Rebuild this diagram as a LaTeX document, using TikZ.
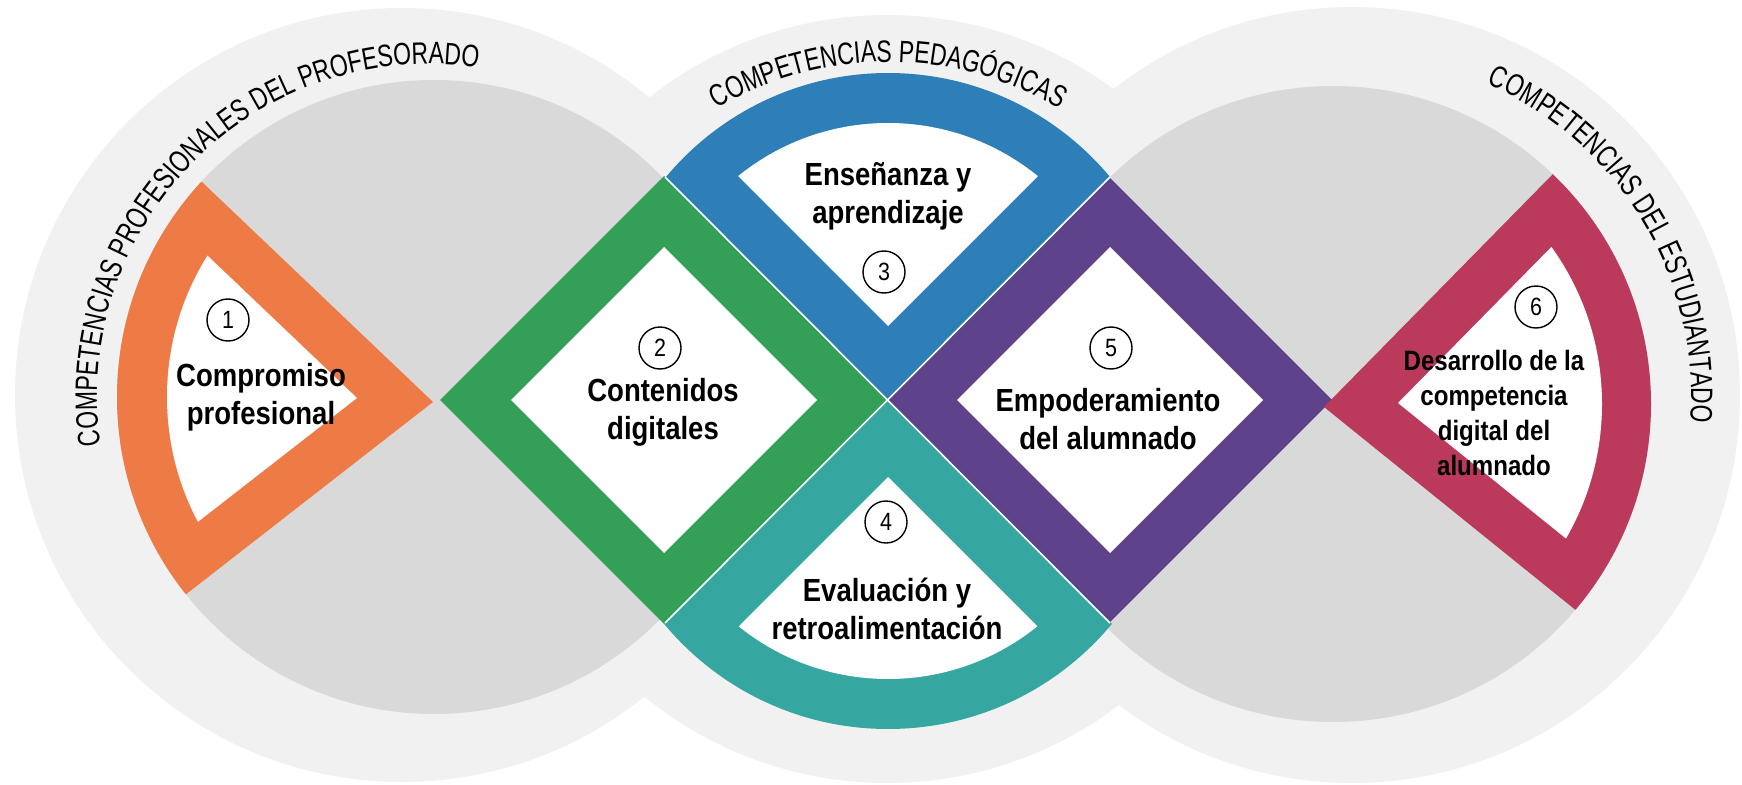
\documentclass[tikz,border=0pt]{standalone}
\usepackage{fontspec}
\setmainfont{Liberation Sans}[FakeStretch=0.86]
\newfontfamily\arcfont{Liberation Sans}[FakeStretch=0.74]
\usepackage{xcolor}
\usepackage{tikz}
\usetikzlibrary{decorations.text}
\definecolor{bandgrey}{HTML}{F1F1F1}
\definecolor{diskgrey}{HTML}{D9D9D9}
\definecolor{compromiso}{HTML}{EE7A46}
\definecolor{contenidos}{HTML}{34A057}
\definecolor{ensenanza}{HTML}{2E7EB8}
\definecolor{evaluacion}{HTML}{35A7A0}
\definecolor{empoderamiento}{HTML}{5E438B}
\definecolor{desarrollo}{HTML}{BB3A5B}
% apex, first angle, second angle, disk centre, radius, colour
\newcommand{\sectorfill}[6]{%
  \begin{scope}
    \clip #1 -- +(#2:800) -- +({(#2+#3)/2}:800) -- +(#3:800) -- cycle;
    \fill[#6] #4 circle[radius=#5];
  \end{scope}}
\tikzset{
  badge/.style={circle, draw, line width=0.7pt, minimum size=21pt, inner sep=0pt,
    font=\fontsize{12.5}{12.5}\selectfont},
  areatext/.style={align=center, inner sep=0pt, font=\bfseries\fontsize{16}{19}\selectfont},
  arctext/.style={decorate, decoration={text along path, text align=center,
    text={|\arcfont\fontsize{15.5}{15.5}\selectfont|#1}}},
}

\begin{document}
\begin{tikzpicture}[x=0.5pt, y=0.5pt]
        \useasboundingbox (0,0) rectangle (1742,784);

        % Outer bands
        \fill[bandgrey] (402,389) circle[radius=387];
        \fill[bandgrey] (887,385) circle[radius=384];
        \fill[bandgrey] (1352,389) circle[radius=388];
        % Inner disks
        \fill[diskgrey] (434,387) circle[radius=317];
        \fill[diskgrey] (1333,380) circle[radius=318];

        % 1 Compromiso profesional
        \sectorfill{(433,382)}{136.4}{217.9}{(434,387)}{317}{compromiso}
        \sectorfill{(357,386)}{136.4}{217.9}{(434,387)}{267}{white}

        % 2 Contenidos digitales
        \fill[contenidos] (440,384) -- (664,608) -- (888,384) -- (664,160) -- cycle;
        \fill[white] (511,384) -- (664,537) -- (817,384) -- (664,231) -- cycle;

        % 3 Enseñanza y aprendizaje
        \sectorfill{(888,384)}{45}{135}{(888,422)}{289}{ensenanza}
        \sectorfill{(888,458)}{45}{135}{(888,423)}{238}{white}

        % 4 Evaluación y retroalimentación
        \sectorfill{(888,384)}{225}{315}{(888,346)}{291}{evaluacion}
        \sectorfill{(888,307)}{225}{315}{(888,343)}{238}{white}

        % 5 Empoderamiento del alumnado
        \fill[empoderamiento] (888,384) -- (1110,606) -- (1332,384) -- (1110,162) -- cycle;
        \fill[white] (957,384) -- (1110,537) -- (1263,384) -- (1110,231) -- cycle;

        % 6 Desarrollo de la competencia digital
        \sectorfill{(1324,377)}{45.5}{-38.9}{(1333,380)}{318}{desarrollo}
        \sectorfill{(1398,381)}{45.5}{-38.9}{(1333,380)}{269}{white}

        % Thin gaps between the middle pieces
        \draw[white, line width=0.8pt] (665,607) -- (1110,161);
        \draw[white, line width=0.8pt] (1110,607) -- (665,161);

        % Titles along the bands
        \path[arctext={COMPETENCIAS PROFESIONALES DEL PROFESORADO}]
          ([shift={(200:333)}]430,387) arc[start angle=200, end angle=70, radius=333];
        \path[arctext={COMPETENCIAS PEDAGÓGICAS}]
          ([shift={(150:338)}]888,384) arc[start angle=150, end angle=30, radius=338];
        \path[arctext={COMPETENCIAS DEL ESTUDIANTADO}]
          ([shift={(80:339)}]1352,389) arc[start angle=80, end angle=-18, radius=339];

        % Numbers
        \node[badge] (n1) at (228,464) {1};
        \node[badge] (n2) at (660,436) {2};
        \node[badge] (n3) at (884,512) {3};
        \node[badge] (n4) at (886,262) {4};
        \node[badge] (n5) at (1111,436) {5};
        \node[badge] (n6) at (1536,477) {6};

        % Area names
        \node[areatext] (compromiso) at (261,387) {Compromiso\\profesional};
        \node[areatext] (contenidos) at (663,372) {Contenidos\\digitales};
        \node[areatext] (ensenanza) at (888,588) {Enseñanza y\\aprendizaje};
        \node[areatext] (evaluacion) at (887,175) {Evaluación y\\retroalimentación};
        \node[areatext] (empoderamiento) at (1108,365) {Empoderamiento\\del alumnado};
        \node[areatext, font=\bfseries\fontsize{14}{17.5}\selectfont] (desarrollo) at (1494,371)
          {Desarrollo de la\\competencia\\digital del\\alumnado};
    \end{tikzpicture}
\end{document}
